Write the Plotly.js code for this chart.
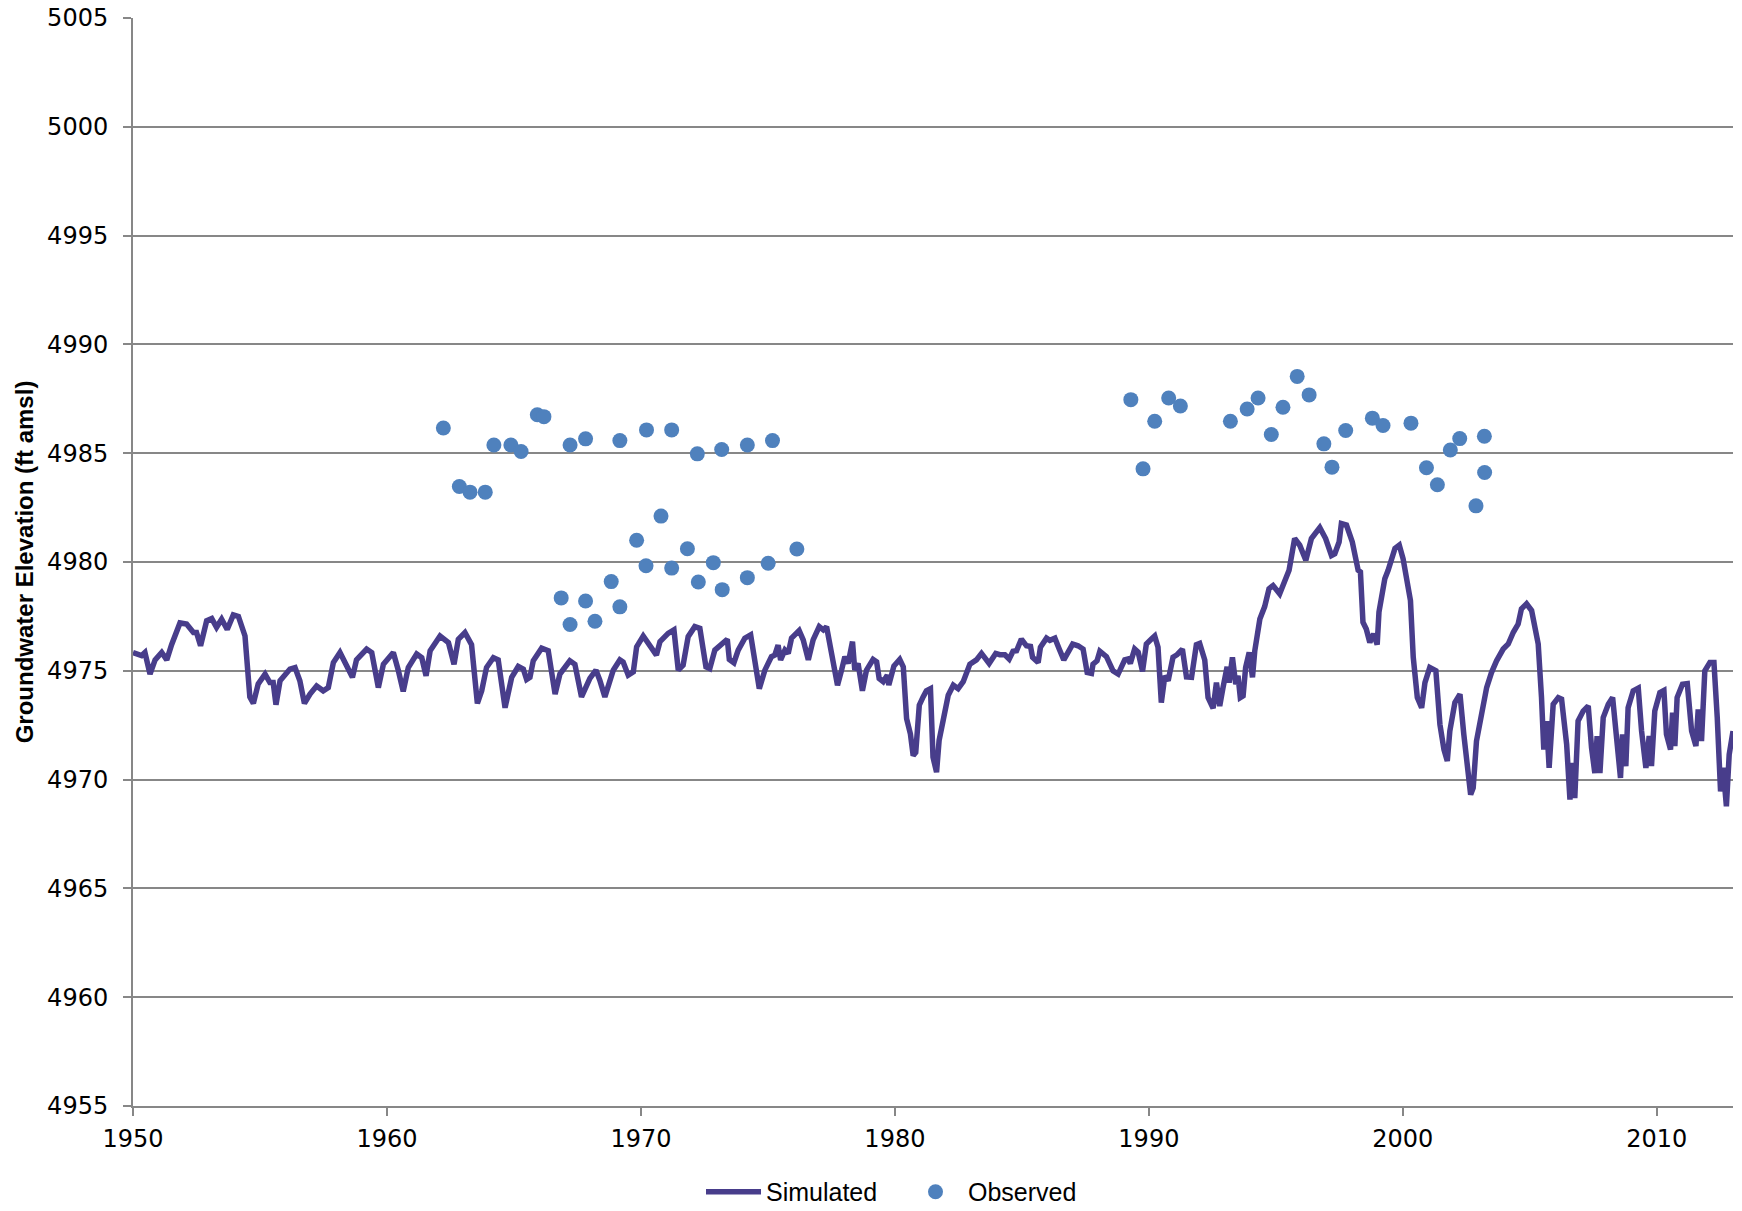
<!DOCTYPE html>
<html>
<head>
<meta charset="utf-8">
<script src="https://cdn.plot.ly/plotly-3.0.1.min.js"></script>
<style>
  html, body { margin: 0; padding: 0; background: #ffffff; }
  #chart { width: 1742px; height: 1211px; }
</style>
</head>
<body>
<div id="chart"></div>
<script>
// ---- Data ----
const simYear = [
  1950.0, 1950.34, 1950.47, 1950.67, 1950.87, 1951.13, 1951.33, 1951.52, 1951.85, 1952.11,
  1952.38, 1952.5, 1952.66, 1952.9, 1953.1, 1953.29, 1953.49, 1953.71, 1953.95, 1954.15,
  1954.41, 1954.6, 1954.74, 1954.93, 1955.2, 1955.39, 1955.52, 1955.63, 1955.79, 1955.98,
  1956.18, 1956.38, 1956.57, 1956.75, 1956.97, 1957.23, 1957.49, 1957.69, 1957.89, 1958.15,
  1958.48, 1958.64, 1958.8, 1959.2, 1959.4, 1959.66, 1959.86, 1960.25, 1960.45, 1960.64,
  1960.84, 1961.17, 1961.37, 1961.54, 1961.7, 1962.09, 1962.42, 1962.64, 1962.81, 1963.07,
  1963.33, 1963.56, 1963.73, 1963.92, 1964.19, 1964.38, 1964.65, 1964.91, 1965.17, 1965.37,
  1965.5, 1965.63, 1965.76, 1966.09, 1966.35, 1966.62, 1966.81, 1967.2, 1967.4, 1967.66,
  1967.99, 1968.23, 1968.38, 1968.58, 1968.91, 1969.17, 1969.3, 1969.5, 1969.7, 1969.83,
  1970.09, 1970.35, 1970.61, 1970.75, 1971.07, 1971.3, 1971.47, 1971.66, 1971.86, 1972.12,
  1972.32, 1972.56, 1972.71, 1972.91, 1973.17, 1973.4, 1973.48, 1973.66, 1973.83, 1974.09,
  1974.32, 1974.49, 1974.66, 1974.88, 1975.14, 1975.27, 1975.4, 1975.5, 1975.67, 1975.8,
  1975.93, 1976.23, 1976.39, 1976.59, 1976.78, 1977.02, 1977.18, 1977.31, 1977.5, 1977.74,
  1977.9, 1978.03, 1978.16, 1978.33, 1978.42, 1978.55, 1978.72, 1978.88, 1979.14, 1979.28,
  1979.38, 1979.54, 1979.7, 1979.76, 1979.96, 1980.19, 1980.33, 1980.46, 1980.61, 1980.72,
  1980.82, 1980.96, 1981.11, 1981.24, 1981.4, 1981.5, 1981.64, 1981.74, 1981.9, 1982.1,
  1982.3, 1982.49, 1982.69, 1982.95, 1983.21, 1983.41, 1983.71, 1983.97,
  1984.13, 1984.33, 1984.5, 1984.65, 1984.79, 1984.98, 1985.18, 1985.34, 1985.42, 1985.64,
  1985.73, 1985.97, 1986.1, 1986.3, 1986.47, 1986.65, 1987.0, 1987.21, 1987.41, 1987.57,
  1987.74, 1987.8, 1987.96, 1988.07, 1988.33, 1988.59, 1988.79, 1989.05, 1989.18, 1989.27,
  1989.44, 1989.58, 1989.75, 1989.9, 1990.1, 1990.23, 1990.36, 1990.49, 1990.63, 1990.76,
  1990.95, 1991.11, 1991.32, 1991.48, 1991.68, 1991.87, 1992.0, 1992.2, 1992.33, 1992.53,
  1992.66, 1992.79, 1992.92, 1993.08, 1993.16, 1993.29, 1993.42, 1993.51, 1993.6, 1993.71,
  1993.81, 1993.95, 1994.08, 1994.17, 1994.37, 1994.56, 1994.73, 1994.89, 1995.15, 1995.35,
  1995.52, 1995.74, 1995.94, 1996.18, 1996.4, 1996.73, 1996.96, 1997.19, 1997.32, 1997.49,
  1997.58, 1997.78, 1998.01, 1998.24, 1998.33, 1998.43, 1998.56, 1998.7, 1998.85, 1998.99,
  1999.06, 1999.29, 1999.42,
  1999.69, 1999.86, 2000.01, 2000.21, 2000.3, 2000.41, 2000.57, 2000.74, 2000.87, 2001.06,
  2001.3, 2001.46, 2001.62, 2001.75, 2001.85, 2002.05, 2002.25, 2002.4, 2002.53, 2002.67,
  2002.77, 2002.9, 2003.1, 2003.3, 2003.49, 2003.69, 2003.95, 2004.15, 2004.35, 2004.54,
  2004.67, 2004.87, 2005.07, 2005.2, 2005.33, 2005.46, 2005.55, 2005.66, 2005.76, 2005.92,
  2006.12, 2006.25, 2006.45, 2006.58, 2006.68, 2006.77, 2006.9, 2007.1, 2007.3, 2007.43,
  2007.56, 2007.65, 2007.76, 2007.89, 2008.09, 2008.26, 2008.41, 2008.57, 2008.65, 2008.78,
  2008.87, 2009.07, 2009.27, 2009.4, 2009.57, 2009.7, 2009.79, 2009.92, 2010.12, 2010.28,
  2010.38, 2010.54, 2010.62, 2010.71, 2010.8, 2011.01, 2011.2, 2011.37, 2011.54, 2011.63,
  2011.76, 2011.89, 2012.09, 2012.25, 2012.38, 2012.51, 2012.61, 2012.74, 2012.85, 2013.0
];
const simElev = [
  4975.84, 4975.7, 4975.84, 4974.85, 4975.5, 4975.84, 4975.5, 4976.2, 4977.2, 4977.15,
  4976.76, 4976.76, 4976.15, 4977.3, 4977.4, 4977.0, 4977.37, 4976.9, 4977.57, 4977.5,
  4976.6, 4973.8, 4973.5, 4974.4, 4974.85, 4974.46, 4974.46, 4973.44, 4974.54, 4974.85,
  4975.08, 4975.15, 4974.54, 4973.5, 4973.93, 4974.3, 4974.08, 4974.23, 4975.38, 4975.84,
  4975.15, 4974.7, 4975.5, 4976.0, 4975.84, 4974.23, 4975.3, 4975.84, 4975.0, 4974.05,
  4975.15, 4975.77, 4975.6, 4974.77, 4975.92, 4976.6, 4976.3, 4975.3, 4976.45, 4976.76,
  4976.2, 4973.5, 4974.08, 4975.15, 4975.6, 4975.5, 4973.3, 4974.7, 4975.2, 4975.08,
  4974.6, 4974.7, 4975.46, 4976.04, 4975.92, 4973.93, 4974.85, 4975.46, 4975.3, 4973.8,
  4974.65, 4975.03, 4974.57, 4973.8, 4975.03, 4975.5, 4975.4, 4974.8, 4974.95, 4976.1,
  4976.6, 4976.1, 4975.72, 4976.34, 4976.72, 4976.88, 4975.03, 4975.26, 4976.57, 4977.03,
  4976.95, 4975.18, 4975.1, 4975.95, 4976.26, 4976.45, 4975.52, 4975.37, 4975.95, 4976.5,
  4976.65, 4975.34, 4974.18, 4975.03, 4975.65, 4975.72, 4976.18, 4975.5, 4975.95, 4975.8,
  4976.5, 4976.85, 4976.42, 4975.5, 4976.42, 4977.03, 4976.88, 4977.03, 4975.8, 4974.34,
  4975.03, 4975.65, 4975.34, 4976.34, 4975.03, 4975.34, 4974.08, 4975.03, 4975.52, 4975.41,
  4974.65, 4974.5, 4974.8, 4974.34, 4975.22, 4975.52, 4975.18, 4972.8, 4972.1, 4971.1,
  4971.25, 4973.42, 4973.8, 4974.08, 4974.18, 4971.03, 4970.34, 4971.8, 4972.72, 4973.88,
  4974.34, 4974.18, 4974.5, 4975.3, 4975.5, 4975.8, 4975.34, 4975.8,
  4975.74, 4975.74, 4975.54, 4975.9, 4975.92, 4976.46, 4976.15, 4976.12, 4975.62, 4975.38,
  4976.08, 4976.5, 4976.4, 4976.5, 4976.0, 4975.5, 4976.23, 4976.15, 4976.0, 4974.92,
  4974.88, 4975.3, 4975.46, 4975.9, 4975.65, 4975.0, 4974.85, 4975.5, 4975.54, 4975.34,
  4976.0, 4975.85, 4974.97, 4976.23, 4976.46, 4976.6, 4976.08, 4973.54, 4974.77, 4974.54,
  4975.62, 4975.74, 4976.0, 4974.72, 4974.7, 4976.2, 4976.26, 4975.5, 4973.77, 4973.28,
  4974.46, 4973.38, 4974.23, 4975.18, 4974.46, 4975.62, 4974.38, 4974.77, 4973.77, 4973.85,
  4975.15, 4975.85, 4974.7, 4975.92, 4977.38, 4977.95, 4978.77, 4978.92, 4978.54, 4979.08,
  4979.62, 4981.08, 4980.77, 4980.08, 4981.08, 4981.58, 4981.08, 4980.3, 4980.38, 4980.92,
  4981.77, 4981.7, 4980.92, 4979.62, 4979.54, 4977.23, 4976.92, 4976.3, 4976.7, 4976.2,
  4977.7, 4979.23, 4979.62,
  4980.62, 4980.77, 4980.15, 4978.7, 4978.23, 4975.62, 4973.77, 4973.3, 4974.46, 4975.15,
  4975.0, 4972.54, 4971.38, 4970.85, 4972.23, 4973.54, 4973.92, 4972.08, 4970.54, 4969.31,
  4969.62, 4971.77, 4973.0, 4974.23, 4974.92, 4975.46, 4976.0, 4976.23, 4976.77, 4977.15,
  4977.85, 4978.08, 4977.77, 4977.0, 4976.23, 4973.77, 4971.38, 4972.69, 4970.54, 4973.46,
  4973.77, 4973.7, 4971.62, 4969.08, 4970.77, 4969.15, 4972.69, 4973.15, 4973.38, 4971.46,
  4970.3, 4972.0, 4970.3, 4972.85, 4973.46, 4973.77, 4971.77, 4970.08, 4972.08, 4970.62,
  4973.3, 4974.08, 4974.2, 4972.23, 4970.54, 4972.0, 4970.62, 4973.15, 4974.0, 4974.1,
  4972.08, 4971.38, 4973.08, 4971.54, 4973.77, 4974.38, 4974.41, 4972.23, 4971.54, 4973.23,
  4971.77, 4975.0, 4975.38, 4975.38, 4972.85, 4969.46, 4970.54, 4968.77, 4971.15, 4972.23
];

const obsYear = [
  1962.22, 1962.85, 1963.27, 1963.87, 1964.21, 1964.88, 1965.28, 1965.92, 1966.18, 1967.21,
  1967.82, 1969.17, 1970.22, 1971.21, 1972.22, 1973.18, 1974.19, 1975.18,
  1966.86, 1967.21, 1967.82, 1968.19, 1968.83, 1969.17, 1969.83, 1970.2, 1970.79, 1971.21,
  1971.83, 1972.26, 1972.85, 1973.2, 1974.19, 1975.01, 1976.14,
  1989.29, 1989.77, 1990.23, 1990.78, 1991.24, 1993.21, 1993.87, 1994.3, 1994.82, 1995.28,
  1995.84, 1996.31, 1996.89, 1997.21, 1997.75, 1998.8, 1999.22, 2000.32, 2000.93, 2001.36,
  2001.87, 2002.24, 2002.88, 2003.21, 2003.22
];
const obsElev = [
  4986.16, 4983.47, 4983.21, 4983.21, 4985.38, 4985.38, 4985.08, 4986.77, 4986.68, 4985.38,
  4985.66, 4985.58, 4986.07, 4986.07, 4984.97, 4985.17, 4985.38, 4985.58,
  4978.35, 4977.13, 4978.21, 4977.28, 4979.1, 4977.94, 4981.0, 4979.83, 4982.11, 4979.72,
  4980.61, 4979.08, 4979.97, 4978.73, 4979.28, 4979.94, 4980.6,
  4987.46, 4984.28, 4986.47, 4987.54, 4987.17, 4986.47, 4987.03, 4987.54, 4985.86, 4987.11,
  4988.53, 4987.68, 4985.43, 4984.36, 4986.04, 4986.61, 4986.27, 4986.38, 4984.33, 4983.55,
  4985.15, 4985.67, 4982.58, 4985.78, 4984.11
];

const seriesNames = ["Simulated", "Observed"];
const yTitle = "Groundwater Elevation (ft amsl)";

// ---- Styling ----
const gridGray = "#878787";
const textFont = "Liberation Sans, Arial, sans-serif";
const numFont = "DejaVu Sans, sans-serif";

const traces = [
  {
    type: "scatter",
    mode: "lines",
    name: seriesNames[0],
    x: simYear,
    y: simElev,
    line: { color: "#483D8B", width: 5.5, shape: "linear" },
    hoverinfo: "x+y"
  },
  {
    type: "scatter",
    mode: "markers",
    name: seriesNames[1],
    x: obsYear,
    y: obsElev,
    marker: { color: "#4F81BD", size: 15, line: { width: 0 } },
    hoverinfo: "x+y"
  }
];

const layout = {
  width: 1742,
  height: 1211,
  margin: { l: 133, r: 9, t: 18, b: 105, pad: 0, autoexpand: false },
  paper_bgcolor: "#ffffff",
  plot_bgcolor: "#ffffff",
  font: { family: textFont, size: 24, color: "#000000" },
  showlegend: true,
  legend: {
    orientation: "h",
    x: 0.355,
    xanchor: "left",
    xref: "paper",
    y: 0.0157,
    yanchor: "middle",
    yref: "container",
    font: { family: textFont, size: 25, color: "#000000" },
    itemwidth: 55,
    entrywidth: 132,
    entrywidthmode: "pixels",
    bgcolor: "rgba(0,0,0,0)"
  },
  xaxis: {
    range: [1950, 2013],
    dtick: 10,
    tick0: 1950,
    tickformat: "d",
    showgrid: false,
    zeroline: false,
    showline: true,
    linecolor: gridGray,
    linewidth: 2,
    ticks: "outside",
    ticklen: 8,
    tickwidth: 2,
    tickcolor: gridGray,
    ticklabelstandoff: 2,
    tickfont: { family: numFont, size: 24, color: "#000000" },
    fixedrange: true
  },
  yaxis: {
    range: [4955, 5005],
    dtick: 5,
    tick0: 4955,
    tickformat: "d",
    showgrid: true,
    gridcolor: gridGray,
    gridwidth: 2,
    zeroline: false,
    showline: true,
    linecolor: gridGray,
    linewidth: 2,
    ticks: "outside",
    ticklen: 8,
    tickwidth: 2,
    tickcolor: gridGray,
    ticklabelstandoff: 10,
    tickfont: { family: numFont, size: 24, color: "#000000" },
    title: {
      text: yTitle,
      font: { family: textFont, size: 24, color: "#000000", weight: 700 },
      standoff: 7
    },
    fixedrange: true
  }
};

Plotly.newPlot("chart", traces, layout, { displayModeBar: false, staticPlot: true });
</script>
</body>
</html>
